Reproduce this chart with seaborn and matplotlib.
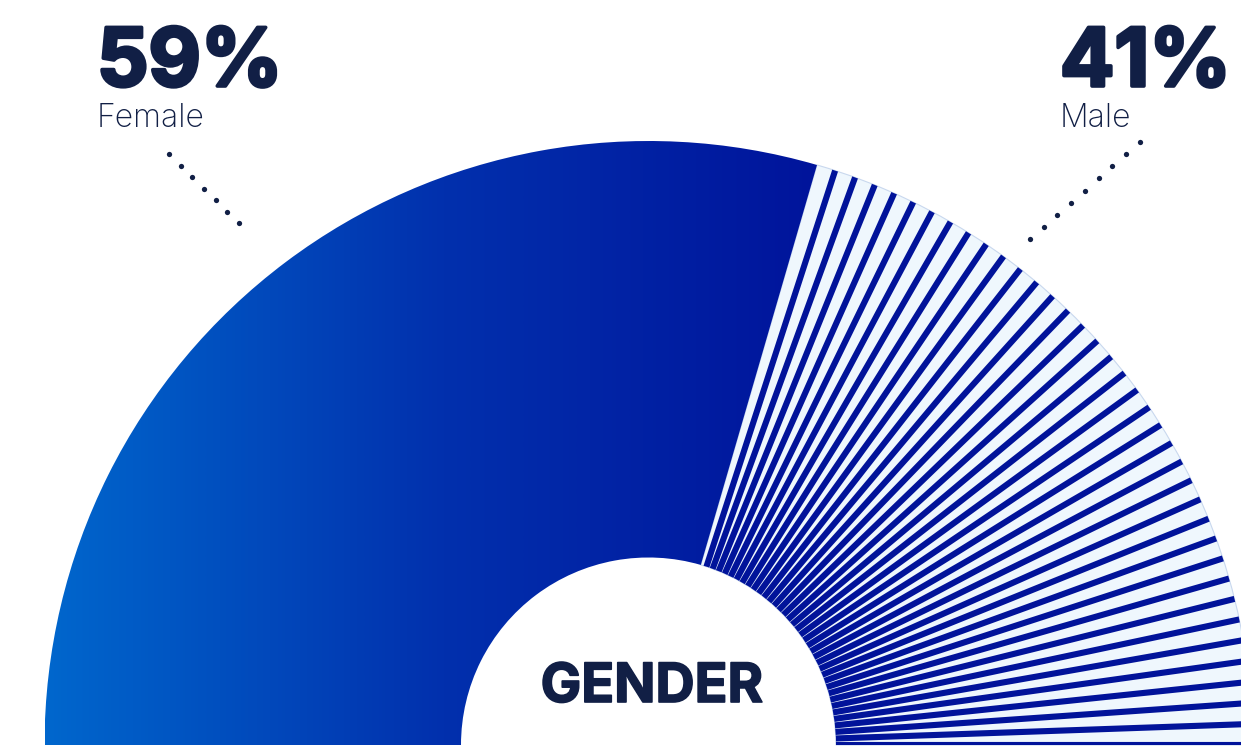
import numpy as np
import matplotlib
matplotlib.use("Agg")
import matplotlib.pyplot as plt
import matplotlib.patheffects as pe
import seaborn as sns

# data
labels = ["Female", "Male"]
shares = [59, 41]
title = "GENDER"

# colours
navy = "#111f45"
stripe_blue = "#01139a"
light_fill = "#eff7fd"
grad_cmap = sns.blend_palette(["#0067cd", "#0230ad", "#00129a"], n_colors=256, as_cmap=True)

sns.set_theme(style="white")
plt.rcParams["font.family"] = ["Inter", "DejaVu Sans"]

W, H = 1241, 747
fig = plt.figure(figsize=(W / 100, H / 100), dpi=100)
ax = fig.add_axes([0, 0, 1, 1])

# geometry (pixel measurements of the layout)
cx, cy, R = 648.5, 745.0, 604.0
r_in = 187.5 / R


def px(x, y):
    return (x - cx) / R, (cy - y) / R


# half donut: the hidden third wedge fills the lower half
wedges, _ = ax.pie(shares + [sum(shares)], radius=1, startangle=180, counterclock=False,
                   colors=["none", light_fill, "none"],
                   wedgeprops=dict(width=1 - r_in, linewidth=0))
female, male, hidden = wedges
hidden.set_visible(False)
male.set_edgecolor("#c9d8ee")
male.set_linewidth(0.8)

# gradient for female wedge
grad = np.linspace(0, 1, 512).reshape(1, -1)
im = ax.imshow(grad, cmap=grad_cmap, extent=[-1, 0.32, 0, 1], aspect="auto", zorder=1)
im.set_clip_path(female)

# radial stripes over the male wedge
t_lo, t_hi = sorted([male.theta1, male.theta2])
angles = np.arange(t_hi - 1.8, t_lo - 0.01, -2.0)
for a in angles:
    t = np.deg2rad(a)
    line, = ax.plot([r_in * 0.9 * np.cos(t), 1.05 * np.cos(t)],
                    [r_in * 0.9 * np.sin(t), 1.05 * np.sin(t)],
                    color=stripe_blue, lw=4.4, solid_capstyle="butt", zorder=2)
    line.set_clip_path(male)

# dotted leaders
for (x0, y0), (x1, y1), n in [((169, 154), (239, 223), 7), ((1140, 142), (1030, 239), 9)]:
    p0, p1 = px(x0, y0), px(x1, y1)
    ax.plot(np.linspace(p0[0], p1[0], n), np.linspace(p0[1], p1[1], n),
            "o", color=navy, markersize=3.8, markeredgewidth=0, zorder=3)

ax.set_xlim(-cx / R, (W - cx) / R)
ax.set_ylim(-(H - cy) / R, cy / R)
ax.set_aspect("equal")
ax.axis("off")

# labels
heavy = [pe.withStroke(linewidth=2.6, foreground=navy)]
for i, (lab, val) in enumerate(zip(labels, shares)):
    x0 = 97 if i == 0 else 1060
    fig.text(x0 / W, 1 - 86 / H, f"{val}%", ha="left", va="baseline",
             fontsize=58, fontweight="bold", color=navy, path_effects=heavy)
    fig.text(x0 / W, 1 - 127 / H, lab, ha="left", va="baseline",
             fontsize=23, fontweight="light", color=navy)

fig.text(652 / W, 1 - 702 / H, title, ha="center", va="baseline",
         fontsize=39, fontweight="bold", color=navy,
         path_effects=[pe.withStroke(linewidth=1.2, foreground=navy)])

fig.savefig("out.png", dpi=100, facecolor="white")
